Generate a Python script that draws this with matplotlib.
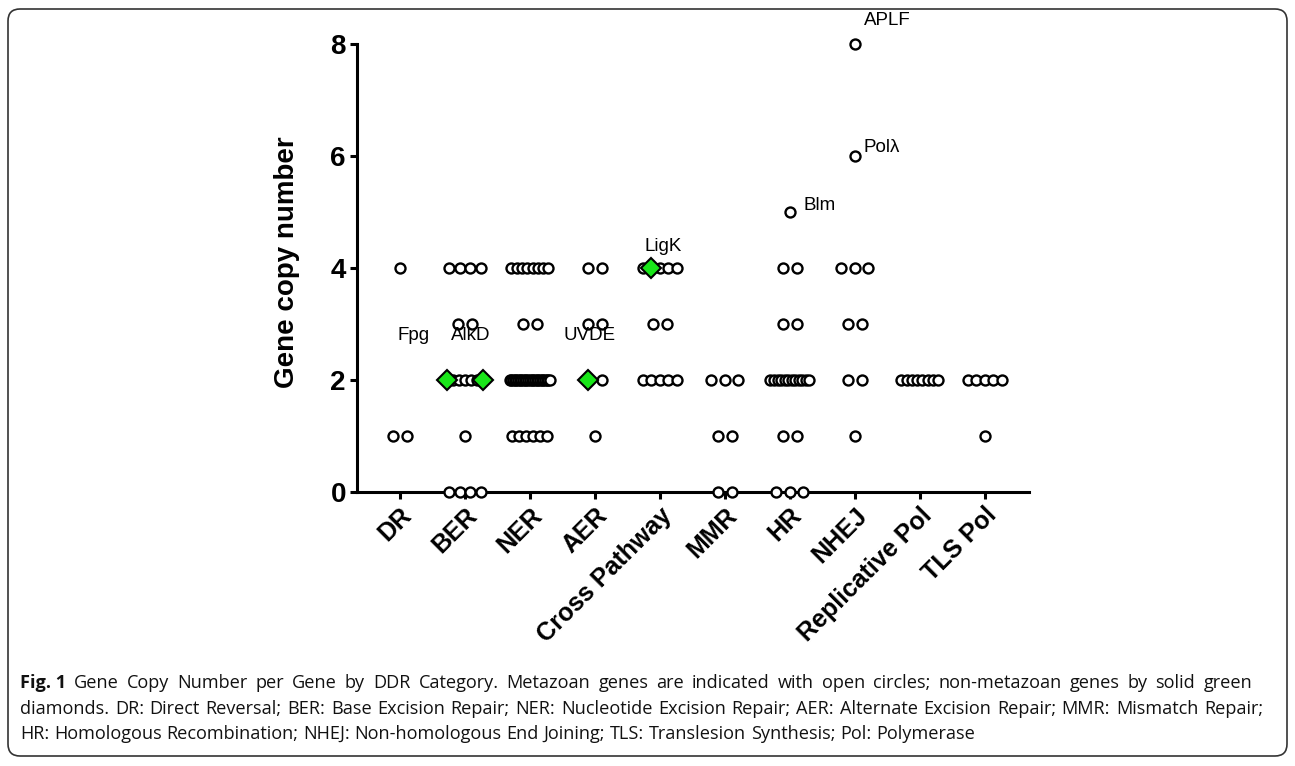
import numpy as np
import matplotlib
matplotlib.use("Agg")
import matplotlib.pyplot as plt
from matplotlib.patches import FancyBboxPatch
from matplotlib.transforms import IdentityTransform, ScaledTranslation

# ---------------- data ----------------
categories = ["DR", "BER", "NER", "AER", "Cross Pathway", "MMR", "HR", "NHEJ",
              "Replicative Pol", "TLS Pol"]

# metazoan gene copy numbers (open circles), one list per category
dr = [4, 1, 1]
ber = [4, 4, 4, 4, 3, 3, 2, 2, 2, 2, 2, 1, 0, 0, 0, 0]
ner = [4] * 8 + [3] * 2 + [2] * 25 + [1] * 6
aer = [4, 4, 3, 3, 2, 1]
cross = [4] * 4 + [3] * 2 + [2] * 5
mmr = [2, 2, 2, 1, 1, 0, 0]
hr = [5, 4, 4, 3, 3] + [2] * 12 + [1, 1, 0, 0, 0]
nhej = [8, 6, 4, 4, 4, 3, 3, 2, 2, 1]
rep_pol = [2] * 8
tls_pol = [2] * 5 + [1]
metazoan = [dr, ber, ner, aer, cross, mmr, hr, nhej, rep_pol, tls_pol]

# non-metazoan genes (green diamonds)
nm_names = ["Fpg", "AlkD", "UVDE", "LigK"]
nm_category = ["BER", "BER", "AER", "Cross Pathway"]
nm_values = [2, 2, 2, 4]

# labelled metazoan outliers
outlier_names = ["Blm", "Polλ", "APLF"]
outlier_category = ["HR", "NHEJ", "NHEJ"]
outlier_values = [5, 6, 8]

caption_bold = "Fig. 1"
caption_lines = [
    "Gene Copy Number per Gene by DDR Category. Metazoan genes are indicated with open circles; non-metazoan genes by solid green",
    "diamonds. DR: Direct Reversal; BER: Base Excision Repair; NER: Nucleotide Excision Repair; AER: Alternate Excision Repair; MMR: Mismatch Repair;",
    "HR: Homologous Recombination; NHEJ: Non-homologous End Joining; TLS: Translesion Synthesis; Pol: Polymerase",
]

# ---------------- layout helpers ----------------
nm_rank = [0, -1, 0, 1]          # slot of each diamond inside its row
nm_label_off = [(-33, 40), (-12, 40), (2, 40), (12, 17)]   # pixels
out_label_off = [(14, 2), (9, 4), (9, 19)]


def spread(n):
    s = min(0.21, 0.65 / n)
    return (np.arange(n) - (n - 1) / 2) * s


W, H = 1295, 766
fig = plt.figure(figsize=(W / 100, H / 100), dpi=100)
ax = fig.add_axes([357 / W, 1 - 492 / H, (1029 - 357) / W, (492 - 44) / H])

circ_x, circ_y = [], []
dia_pos = {}
for ci, vals in enumerate(metazoan):
    cat = categories[ci]
    nm_here = [k for k in range(len(nm_names)) if nm_category[k] == cat]
    for v in sorted(set(vals) | {nm_values[k] for k in nm_here}, reverse=True):
        nm_idx = [k for k in nm_here if nm_values[k] == v]
        n = vals.count(v) + len(nm_idx)
        offs = spread(n)
        taken = []
        for k in nm_idx:
            r = nm_rank[k] % n
            taken.append(r)
            dia_pos[k] = (ci + offs[r], v)
        for r in range(n):
            if r not in taken:
                circ_x.append(ci + offs[r]); circ_y.append(v)

ax.plot(circ_x, circ_y, ls="none", marker="o", ms=7.2, mfc="white", mec="black",
        mew=1.7, clip_on=False, zorder=3)
dx = [dia_pos[k][0] for k in range(len(nm_names))]
dy = [dia_pos[k][1] for k in range(len(nm_names))]
ax.plot(dx, dy, ls="none", marker="D", ms=10, mfc="#19e619", mec="black",
        mew=1.5, clip_on=False, zorder=4)

lbl_font = dict(family="Liberation Sans", fontsize=13.5)
for k, name in enumerate(nm_names):
    ax.annotate(name, dia_pos[k], xytext=nm_label_off[k],
                textcoords="offset pixels", ha="center", va="baseline", **lbl_font)
for k, name in enumerate(outlier_names):
    ci = categories.index(outlier_category[k])
    ax.annotate(name, (ci, outlier_values[k]), xytext=out_label_off[k],
                textcoords="offset pixels", ha="left", va="baseline", **lbl_font)

ax.set_xlim(-0.66, 9.68)
ax.set_ylim(0, 8)
ax.set_yticks([0, 2, 4, 6, 8])
ax.set_xticks(range(len(categories)))
ax.set_xticklabels(categories, rotation=45, ha="right", va="top",
                   rotation_mode="anchor", family="Liberation Sans",
                   fontsize=18, fontweight="bold")
for t in ax.get_yticklabels():
    t.set_family("Liberation Sans"); t.set_fontsize(20); t.set_fontweight("bold")
for s in ["top", "right"]:
    ax.spines[s].set_visible(False)
for s in ["left", "bottom"]:
    ax.spines[s].set_linewidth(2.2)
ax.tick_params(width=2.2, length=5, pad=3)
ax.set_ylabel("Gene copy number", family="Liberation Sans", fontsize=20,
              fontweight="bold")
ax.yaxis.set_label_coords(-0.085, 0.513)
ax.patch.set_alpha(0)

# ---------------- caption (justified lines 1-2) ----------------
cap_font = dict(family="Open Sans", fontsize=13.1, color="#111111")
fig.canvas.draw()
renderer = fig.canvas.get_renderer()


def width_of(t):
    return t.get_window_extent(renderer).width


def put_line(x0, y_px, text, right=None, bold_prefix=None):
    x = x0
    items = []
    if bold_prefix:
        items.append((bold_prefix, True))
    items += [(w, False) for w in text.split(" ")]
    arts = []
    for w, b in items:
        t = fig.text(0, 1 - y_px / H, w, fontweight="bold" if b else "normal", **cap_font)
        arts.append(t)
    widths = [width_of(t) for t in arts]
    sp = width_of(fig.text(0, 0, "a a", **cap_font)) - width_of(fig.text(0, 0, "aa", **cap_font))
    fig.texts[-2:] = []
    if right is not None:
        gap = (right - x0 - sum(widths)) / (len(arts) - 1)
    else:
        gap = sp
    for t, w in zip(arts, widths):
        t.set_x(x / W)
        x += w + gap


put_line(20, 688, caption_lines[0], right=1252, bold_prefix=caption_bold)
put_line(20, 714, caption_lines[1], right=1263)
put_line(20, 739, caption_lines[2])

border = FancyBboxPatch((8, 10), 1279, 747, boxstyle="round,pad=0,rounding_size=12",
                        transform=IdentityTransform(), fill=False,
                        edgecolor="#333333", linewidth=1.2)
fig.patches.append(border)

fig.savefig("out.png", dpi=100)
